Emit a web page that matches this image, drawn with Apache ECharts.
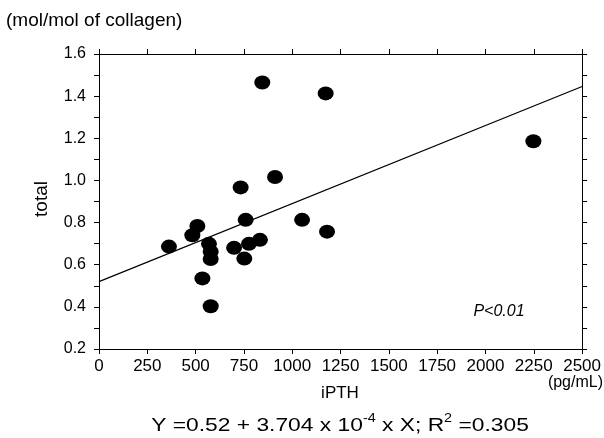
<!DOCTYPE html>
<html>
<head>
<meta charset="utf-8">
<script src="https://cdn.jsdelivr.net/npm/echarts@6/dist/echarts.min.js"></script>
<style>
html,body{margin:0;padding:0;background:#fff;}
#chart{width:604px;height:438px;}
</style>
</head>
<body>
<div id="chart"></div>
<script>
// iPTH (pg/mL) vs total (mol/mol of collagen)
var ipth  = [845, 1173, 911, 733, 759, 1051, 1180, 509, 483, 362, 569, 578, 578, 699, 776, 833, 752, 535, 578, 2248];
var total = [1.465, 1.413, 1.016, 0.967, 0.813, 0.813, 0.757, 0.784, 0.740, 0.686, 0.699, 0.662, 0.627, 0.680, 0.699, 0.718, 0.629, 0.535, 0.403, 1.186];
// regression line endpoints
var fitX = [0, 2500];
var fitY = [0.52, 1.446];
var xTicks = {min: 0, max: 2500, step: 250};
var yTicks = {min: 0.2, max: 1.6, step: 0.2};

var FONT = '"Liberation Sans", Arial, Helvetica, sans-serif';
var points = ipth.map(function (x, i) { return [x, total[i]]; });
var fit = fitX.map(function (x, i) { return [x, fitY[i]]; });

var chart = echarts.init(document.getElementById('chart'), null, {renderer: 'canvas'});

function xAx(pos, labels) {
  return {
    type: 'value', position: pos, min: xTicks.min, max: xTicks.max, interval: xTicks.step,
    axisLine: {show: true, onZero: false, lineStyle: {color: '#000', width: 1}},
    axisTick: {show: true, inside: false, length: 5, lineStyle: {color: '#000', width: 1}},
    axisLabel: {show: labels, color: '#000', fontSize: 17, fontFamily: FONT, margin: 9,
      formatter: function (v) { return String(v); }},
    splitLine: {show: false}
  };
}
function yAx(pos, labels) {
  return {
    type: 'value', position: pos, min: yTicks.min, max: yTicks.max, interval: yTicks.step,
    axisLine: {show: true, onZero: false, lineStyle: {color: '#000', width: 1}},
    axisTick: {show: true, inside: false, length: 5, lineStyle: {color: '#000', width: 1}},
    minorTick: {show: true, splitNumber: 2, length: 5, lineStyle: {color: '#000', width: 1}},
    axisLabel: {show: labels, color: '#000', fontSize: 16, fontFamily: FONT, margin: 13,
      formatter: function (v) { return v.toFixed(1); }},
    splitLine: {show: false}
  };
}

chart.setOption({
  animation: false,
  backgroundColor: '#fff',
  grid: {left: 99, right: 21, top: 54, bottom: 89},
  xAxis: [xAx('bottom', true), xAx('top', false)],
  yAxis: [yAx('left', true), yAx('right', false)],
  series: [
    {type: 'line', data: fit, symbol: 'none', silent: true,
     lineStyle: {color: '#000', width: 1.2}, z: 1},
    {type: 'scatter', data: points, symbol: 'circle', symbolSize: [16, 14],
     itemStyle: {color: '#000', opacity: 1}, z: 2}
  ],
  graphic: [
    {type: 'text', left: 6, top: 11,
     style: {text: '(mol/mol of collagen)', font: '19px ' + FONT, fill: '#000'}},
    {type: 'text', x: 42, y: 199, rotation: Math.PI / 2,
     style: {text: 'total', font: '19px ' + FONT, fill: '#000', textAlign: 'center', textVerticalAlign: 'middle'}},
    {type: 'text', x: 340, y: 393,
     style: {text: 'iPTH', font: '17px ' + FONT, fill: '#000', textAlign: 'center', textVerticalAlign: 'middle'}},
    {type: 'text', x: 603, y: 383,
     style: {text: '(pg/mL)', font: '16px ' + FONT, fill: '#000', textAlign: 'right', textVerticalAlign: 'middle'}},
    {type: 'text', x: 499, y: 312,
     style: {text: 'P<0.01', font: 'italic 16px ' + FONT, fill: '#000', textAlign: 'center', textVerticalAlign: 'middle'}},
    {type: 'text', x: 340, y: 424, scaleX: 1.2,
     style: {
       text: '{n|Y =0.52 + 3.704 x 10}{s|-4}{n| x X; R}{s|2}{n| =0.305}',
       textAlign: 'center', textVerticalAlign: 'middle',
       rich: {
         n: {fontSize: 19, fontFamily: FONT, fill: '#000', color: '#000', lineHeight: 22, verticalAlign: 'bottom'},
         s: {fontSize: 12, fontFamily: FONT, fill: '#000', color: '#000', lineHeight: 22, verticalAlign: 'top', padding: [0, 0, 9, 0]}
       }
     }}
  ]
});
</script>
</body>
</html>
